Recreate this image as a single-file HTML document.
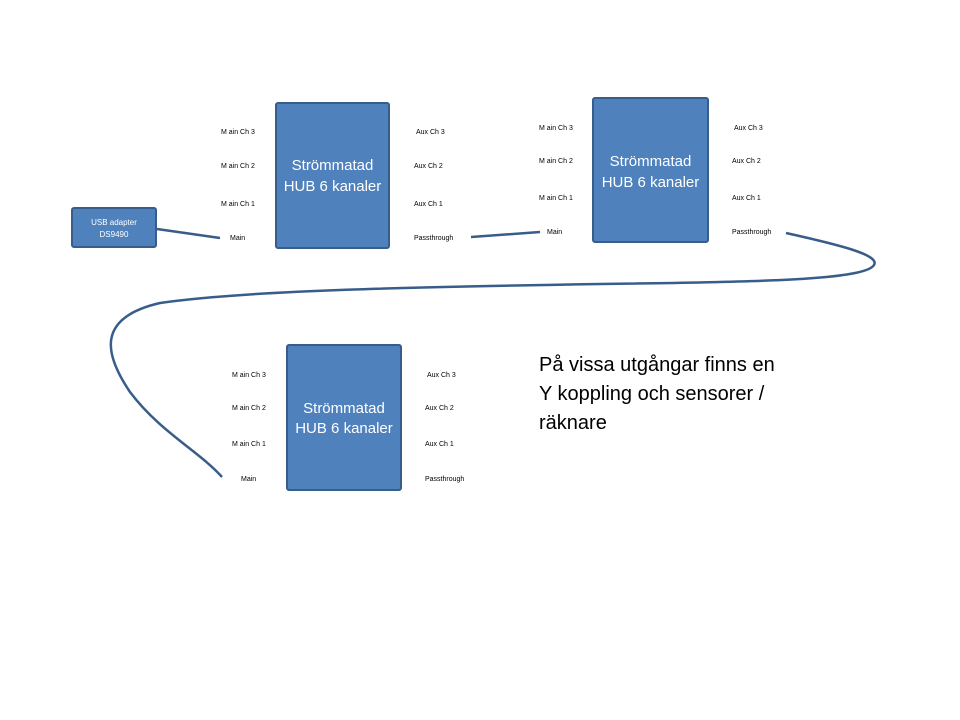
<!DOCTYPE html>
<html><head><meta charset="utf-8"><style>
html,body{margin:0;padding:0;background:#fff;width:960px;height:720px;overflow:hidden}
svg text{font-family:"Liberation Sans",sans-serif}
.s{font-size:7px;fill:#000}
.b{font-size:15px;fill:#fff}
</style></head><body>
<svg width="960" height="720" viewBox="0 0 960 720" xmlns="http://www.w3.org/2000/svg">
<g fill="#4f81bd" stroke="#385d8a" stroke-width="2">
<rect x="276" y="103" width="113" height="145" rx="2"/>
<rect x="593" y="98" width="115" height="144" rx="2"/>
<rect x="287" y="345" width="114" height="145" rx="2"/>
<rect x="72" y="208" width="84" height="39" rx="2"/>
</g>
<g fill="none" stroke="#385d8a" stroke-width="2.5">
<path d="M157 229 L220 238"/>
<path d="M471 237 L540 232"/>
<path d="M786 233 C840 245 880 255 874 265 C865 280 760 282 600 284 C420 287 250 290 160 303 C95 318 105 355 130 392 C160 432 200 452 222 477"/>
</g>
<text class="b" x="332.5" y="170" text-anchor="middle">Strömmatad</text>
<text class="b" x="332.5" y="191" text-anchor="middle">HUB 6 kanaler</text>
<text class="b" x="650.5" y="166" text-anchor="middle">Strömmatad</text>
<text class="b" x="650.5" y="187" text-anchor="middle">HUB 6 kanaler</text>
<text class="b" x="344" y="413" text-anchor="middle">Strömmatad</text>
<text class="b" x="344" y="433" text-anchor="middle">HUB 6 kanaler</text>
<text x="114" y="225" text-anchor="middle" style="font-size:8px;fill:#fff">USB adapter</text>
<text x="114" y="237" text-anchor="middle" style="font-size:8px;fill:#fff">DS9490</text>
<g class="s">
<text x="221" y="134">M ain Ch 3</text><text x="221" y="168">M ain Ch 2</text><text x="221" y="206">M ain Ch 1</text><text x="230" y="240">Main</text>
<text x="416" y="134">Aux Ch 3</text><text x="414" y="168">Aux Ch 2</text><text x="414" y="206">Aux Ch 1</text><text x="414" y="240">Passthrough</text>
<text x="539" y="130">M ain Ch 3</text><text x="539" y="163">M ain Ch 2</text><text x="539" y="200">M ain Ch 1</text><text x="547" y="234">Main</text>
<text x="734" y="130">Aux Ch 3</text><text x="732" y="163">Aux Ch 2</text><text x="732" y="200">Aux Ch 1</text><text x="732" y="234">Passthrough</text>
<text x="232" y="377">M ain Ch 3</text><text x="232" y="410">M ain Ch 2</text><text x="232" y="446">M ain Ch 1</text><text x="241" y="481">Main</text>
<text x="427" y="377">Aux Ch 3</text><text x="425" y="410">Aux Ch 2</text><text x="425" y="446">Aux Ch 1</text><text x="425" y="481">Passthrough</text>
</g>
<g style="font-size:20px;fill:#000">
<text x="539" y="371">På vissa utgångar finns en</text>
<text x="539" y="400">Y koppling och sensorer /</text>
<text x="539" y="429">räknare</text>
</g>
</svg>
</body></html>
